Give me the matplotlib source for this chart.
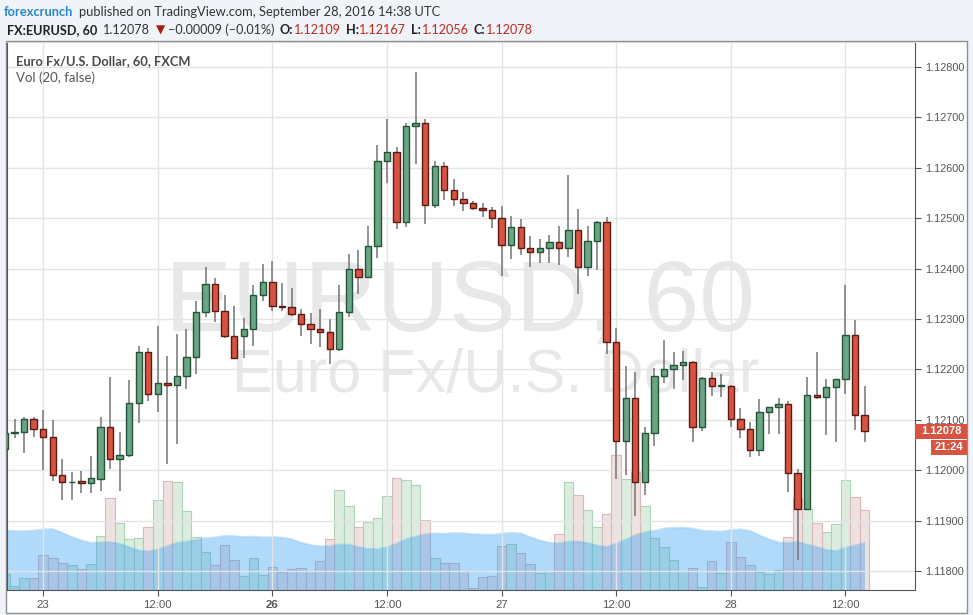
import matplotlib
matplotlib.use('Agg')
import matplotlib.pyplot as plt
from matplotlib import font_manager as fm
from matplotlib.patches import Rectangle
import numpy as np
import pandas as pd

W, H = 973, 615

# ---------------- data ----------------
# hourly bar index, 0 = Sep 23 00:00 UTC (weekend hours skipped)
bar_idx = list(range(-4, 87))
opens = [1.12042, 1.12073, 1.12075, 1.12101, 1.12081, 1.12065, 1.11990, 1.11976, 1.11978, 1.11974,
         1.11983, 1.12085, 1.12022, 1.12030, 1.12133, 1.12234, 1.12151, 1.12174, 1.12170, 1.12186,
         1.12224, 1.12314, 1.12369, 1.12315, 1.12267, 1.12266, 1.12280, 1.12347, 1.12373, 1.12325,
         1.12323, 1.12309, 1.12291, 1.12280, 1.12275, 1.12241, 1.12313, 1.12399, 1.12383, 1.12444,
         1.12613, 1.12631, 1.12492, 1.12682, 1.12688, 1.12526, 1.12603, 1.12555, 1.12538, 1.12530,
         1.12520, 1.12516, 1.12500, 1.12446, 1.12482, 1.12440, 1.12432, 1.12440, 1.12452, 1.12440,
         1.12476, 1.12404, 1.12454, 1.12492, 1.12255, 1.12057, 1.12143, 1.11977, 1.12073, 1.12186,
         1.12200, 1.12208, 1.12214, 1.12085, 1.12182, 1.12168, 1.12168, 1.12101, 1.12081, 1.12040,
         1.12115, 1.12125, 1.12131, 1.11994, 1.11923, 1.12149, 1.12145, 1.12165, 1.12180, 1.12268,
         1.12109]
highs = [1.12078, 1.12101, 1.12105, 1.12105, 1.12120, 1.12100, 1.12022, 1.11997, 1.11999, 1.12028,
         1.12106, 1.12184, 1.12076, 1.12179, 1.12247, 1.12242, 1.12286, 1.12227, 1.12270, 1.12280,
         1.12336, 1.12404, 1.12381, 1.12348, 1.12326, 1.12301, 1.12367, 1.12409, 1.12415, 1.12371,
         1.12361, 1.12320, 1.12312, 1.12320, 1.12300, 1.12367, 1.12429, 1.12437, 1.12485, 1.12645,
         1.12697, 1.12641, 1.12688, 1.12791, 1.12697, 1.12613, 1.12611, 1.12578, 1.12552, 1.12534,
         1.12530, 1.12522, 1.12524, 1.12504, 1.12498, 1.12465, 1.12459, 1.12467, 1.12485, 1.12586,
         1.12518, 1.12485, 1.12495, 1.12502, 1.12282, 1.12207, 1.12194, 1.12086, 1.12202, 1.12258,
         1.12235, 1.12237, 1.12216, 1.12184, 1.12194, 1.12190, 1.12170, 1.12124, 1.12095, 1.12141,
         1.12126, 1.12143, 1.12137, 1.12002, 1.12185, 1.12235, 1.12181, 1.12181, 1.12367, 1.12298,
         1.12167]
lows = [1.12036, 1.12063, 1.12035, 1.12065, 1.12000, 1.11979, 1.11941, 1.11940, 1.11955, 1.11955,
        1.11959, 1.12002, 1.11959, 1.12027, 1.12094, 1.12138, 1.12116, 1.12013, 1.12051, 1.12162,
        1.12190, 1.12303, 1.12295, 1.12263, 1.12220, 1.12223, 1.12247, 1.12336, 1.12316, 1.12316,
        1.12305, 1.12267, 1.12250, 1.12245, 1.12210, 1.12237, 1.12303, 1.12350, 1.12381, 1.12422,
        1.12569, 1.12479, 1.12483, 1.12608, 1.12489, 1.12521, 1.12537, 1.12525, 1.12515, 1.12517,
        1.12503, 1.12481, 1.12385, 1.12420, 1.12426, 1.12404, 1.12412, 1.12412, 1.12408, 1.12424,
        1.12350, 1.12385, 1.12397, 1.12231, 1.11983, 1.11990, 1.11910, 1.11950, 1.12049, 1.12174,
        1.12162, 1.12178, 1.12055, 1.12078, 1.12148, 1.12146, 1.12086, 1.12063, 1.12026, 1.12028,
        1.12072, 1.12072, 1.11957, 1.11821, 1.11921, 1.12141, 1.12070, 1.12055, 1.12152, 1.12080,
        1.12056]
closes = [1.12073, 1.12075, 1.12101, 1.12081, 1.12065, 1.11990, 1.11976, 1.11977, 1.11974, 1.11984,
          1.12085, 1.12022, 1.12030, 1.12133, 1.12234, 1.12151, 1.12174, 1.12170, 1.12186, 1.12224,
          1.12314, 1.12369, 1.12315, 1.12267, 1.12222, 1.12280, 1.12347, 1.12373, 1.12325, 1.12323,
          1.12309, 1.12291, 1.12280, 1.12275, 1.12241, 1.12313, 1.12399, 1.12383, 1.12444, 1.12613,
          1.12631, 1.12492, 1.12682, 1.12688, 1.12526, 1.12603, 1.12555, 1.12538, 1.12530, 1.12520,
          1.12516, 1.12500, 1.12446, 1.12482, 1.12440, 1.12432, 1.12440, 1.12452, 1.12440, 1.12476,
          1.12404, 1.12454, 1.12492, 1.12255, 1.12057, 1.12143, 1.11977, 1.12073, 1.12186, 1.12200,
          1.12208, 1.12214, 1.12085, 1.12182, 1.12168, 1.12168, 1.12101, 1.12081, 1.12040, 1.12115,
          1.12125, 1.12131, 1.11994, 1.11923, 1.12149, 1.12145, 1.12165, 1.12180, 1.12268, 1.12109,
          1.12078]
volume = [47, 11, 35, 35, 104, 95, 80, 74, 62, 77,
          161, 276, 200, 152, 155, 188, 269, 326, 323, 236,
          158, 113, 74, 134, 89, 41, 95, 44, 68, 53,
          62, 65, 56, 86, 152, 299, 251, 188, 203, 215,
          281, 335, 329, 314, 209, 95, 81, 81, 56, 5,
          38, 41, 131, 137, 110, 77, 50, 56, 167, 323,
          284, 239, 188, 227, 404, 332, 354, 251, 155, 128,
          89, 56, 65, 8, 86, 50, 143, 98, 74, 53,
          47, 59, 158, 275, 242, 200, 173, 197, 329, 278,
          239]
# volume MA(20) for the first bars (earlier volumes are off-screen)
vol_ma_head = [180, 177, 177, 179, 182, 183, 172, 159, 149, 142,
               143, 144, 139, 129, 119, 116, 122, 132, 142]
time_tick_idx = [0, 12, 24, 36, 48, 60, 72, 84]
time_tick_labels = ['23', '12:00', '26', '12:00', '27', '12:00', '28', '12:00']
price_ticks = [1.118, 1.119, 1.120, 1.121, 1.122, 1.123, 1.124, 1.125, 1.126, 1.127, 1.128]
last_price = 1.12078
countdown = '21:24'

# ---------------- fonts ----------------
names = {f.name for f in fm.fontManager.ttflist}
def pick(*cands):
    for c in cands:
        if c in names:
            return c
    return 'DejaVu Sans'
UI = pick('Lato', 'Open Sans', 'Noto Sans')
ARIAL = pick('Liberation Sans', 'DejaVu Sans')
NARROW = pick('Liberation Sans Narrow', 'Liberation Sans')

# ---------------- figure ----------------
fig = plt.figure(figsize=(W / 100, H / 100), dpi=100)
fig.patch.set_facecolor('#f0f3f7')
renderer = fig.canvas.get_renderer()

def fx(x):
    return x / W
def fy(y):
    return 1 - y / H

frame = Rectangle((fx(6), fy(613)), (967 - 6) / W, (613 - 41) / H, transform=fig.transFigure,
                  facecolor='white', edgecolor='#8e8e8e', lw=1, zorder=-5)
fig.add_artist(frame)

L, R, T, B = 6.5, 915, 42, 590
ax_v = fig.add_axes([fx(L), fy(B), (R - L) / W, (B - T) / H])
ax = fig.add_axes([fx(L), fy(B), (R - L) / W, (B - T) / H], sharex=ax_v)
ax.set_zorder(ax_v.get_zorder() + 1)
ax.patch.set_visible(False)
ax_v.patch.set_facecolor('white')

x = np.array(bar_idx, dtype=float)
o = np.array(opens); h = np.array(highs); l = np.array(lows); c = np.array(closes)
up = c >= o
spacing = 9.55
x0px = 43.2
ax.set_xlim((L - x0px) / spacing, (R - x0px) / spacing)
ax.set_ylim(1.128 - (B - 67) / 50400, 1.128 + (67 - T) / 50400)

# volume
v = np.array(volume, dtype=float)
ax_v.set_ylim(0, (B - T) * 3)
ax_v.bar(x[up], v[up], width=1.0, color='#dcede0', edgecolor='#acd3b6', lw=0.8, zorder=2)
ax_v.bar(x[~up], v[~up], width=1.0, color='#f0e1e1', edgecolor='#d8b9b9', lw=0.8, zorder=2)
vs = pd.Series(v, index=bar_idx)
ma = vs.rolling(20).mean().to_numpy()
ma[:len(vol_ma_head)] = vol_ma_head
ax_v.fill_between(x, 0, ma, color=(33 / 255, 150 / 255, 243 / 255, 0.35), lw=0, zorder=3)
ax_v.plot(x, ma, color=(33 / 255, 150 / 255, 243 / 255, 0.25), lw=1.2, zorder=3)
ax_v.set_yticks([])
for s in ax_v.spines.values():
    s.set_visible(False)
ax_v.tick_params(axis='x', bottom=False, labelbottom=False)

# grid
ax.set_axisbelow(True)
ax.set_yticks(price_ticks)
ax.set_xticks(time_tick_idx)
ax.grid(True, color='#e4e4e4', lw=1, zorder=0)

# watermark
wm1 = ax.text(fx(165), fy(331), 'EURUSD, 60', transform=fig.transFigure, fontsize=72,
              family=ARIAL, color='#e8e8e8', ha='left', va='baseline', zorder=0.5)
wm1.set_fontsize(72 * 590 / wm1.get_window_extent(renderer).width)
wm2 = ax.text(fx(232), fy(392), 'Euro Fx/U.S. Dollar', transform=fig.transFigure, fontsize=40,
              family=ARIAL, color='#e8e8e8', ha='left', va='baseline', zorder=0.5)
wm2.set_fontsize(40 * 526 / wm2.get_window_extent(renderer).width)

# candles
ax.vlines(x, l, h, color='#747476', lw=1.1, zorder=2)
bot = np.minimum(o, c)
bh = np.maximum(np.abs(c - o), 0.000012)
ax.bar(x[up], bh[up], bottom=bot[up], width=0.66, color='#6ba583', edgecolor='#225437', lw=1, zorder=3)
ax.bar(x[~up], bh[~up], bottom=bot[~up], width=0.66, color='#d75442', edgecolor='#5b1a13', lw=1, zorder=3)

# axes styling
ax.yaxis.tick_right()
ax.set_yticklabels(['%.5f' % p for p in price_ticks])
ax.tick_params(axis='y', length=4, pad=3, labelsize=7.8, colors='#555555', labelcolor='#555555')
ax.set_xticklabels(time_tick_labels)
ax.tick_params(axis='x', length=4, pad=3, labelsize=8.2, colors='#555555', labelcolor='#555555')
for lab in ax.get_yticklabels():
    lab.set_family(NARROW)
for lab, txt in zip(ax.get_xticklabels(), time_tick_labels):
    lab.set_family(NARROW)
    if txt == '26':
        lab.set_fontweight('bold')
for side in ['left', 'right', 'bottom']:
    ax.spines[side].set_color('#555555')
ax.spines['top'].set_color('#d6d6d6')

# legend texts inside chart
ax.text(fx(15.5), fy(65), 'Euro Fx/U.S. Dollar, 60, FXCM', transform=fig.transFigure, fontsize=9.3,
        family=[UI, 'DejaVu Sans'], fontweight='bold', color='#4a4a4a', ha='left', va='baseline', zorder=6)
ax.text(fx(15.5), fy(82), 'Vol (20, false)', transform=fig.transFigure, fontsize=9.5,
        family=[UI, 'DejaVu Sans'], color='#555555', ha='left', va='baseline', zorder=6)

# last price label and countdown
fig.add_artist(Rectangle((fx(915), fy(438.5)), 52 / W, 14.5 / H, transform=fig.transFigure,
                         facecolor='#d75442', edgecolor='none', zorder=10))
fig.text(fx(941), fy(431), '%.5f' % last_price, color='white', fontsize=8, fontweight='bold',
         family=ARIAL, ha='center', va='center', zorder=11)
fig.add_artist(Rectangle((fx(931), fy(455)), 36 / W, 15 / H, transform=fig.transFigure,
                         facecolor='#d75442', edgecolor='none', zorder=10))
fig.text(fx(949), fy(447.5), countdown, color='white', fontsize=8, fontweight='bold',
         family=ARIAL, ha='center', va='center', zorder=11)

# header
def put(xp, yp, s, size, **kw):
    return fig.text(fx(xp), fy(yp), s, fontsize=size, ha='left', va='baseline', zorder=12, **kw)

def width_of(t):
    return t.get_window_extent(renderer).width

RED = '#c0281e'
fam = [UI, 'DejaVu Sans']
t_pub = put(79, 16, 'published on TradingView.com, September 28, 2016 14:38 UTC', 10,
            color='#333333', family=fam)
s1 = 10 * 362 / width_of(t_pub)
t_pub.set_fontsize(s1)
put(4, 16, 'forexcrunch', s1, color='#2a87c8', fontweight='bold', family=fam)

# line 2: (text, colour, weight, family, size factor, gap after in px)
line2 = [
    ('FX:EURUSD, 60', '#222222', 'bold', fam, 1.0, 5.5),
    ('1.12078', '#333333', 'normal', fam, 1.0, 5.5),
    ('\u25bc', '#a51d14', 'normal', ['DejaVu Sans'], 0.95, 3.0),
    ('\u22120.00009 (\u22120.01%)', '#333333', 'normal', fam, 1.0, 5.0),
    ('O:', '#222222', 'bold', fam, 1.0, 0.8),
    ('1.12109', RED, 'normal', fam, 1.0, 5.0),
    ('H:', '#222222', 'bold', fam, 1.0, 0.8),
    ('1.12167', RED, 'normal', fam, 1.0, 5.0),
    ('L:', '#222222', 'bold', fam, 1.0, 0.8),
    ('1.12056', RED, 'normal', fam, 1.0, 5.0),
    ('C:', '#222222', 'bold', fam, 1.0, 0.8),
    ('1.12078', RED, 'normal', fam, 1.0, 0.0),
]
x_start, x_end = 7.3, 535.0
texts = [put(x_start, 34, s, 10 * k, color=col, fontweight=wt, family=f_)
         for s, col, wt, f_, k, g in line2]
total_w = sum(width_of(t) for t in texts)
total_gap = sum(item[5] for item in line2)
scale = (x_end - x_start - total_gap) / total_w
xp = x_start
for t, item in zip(texts, line2):
    t.set_fontsize(10 * item[4] * scale)
    t.set_x(fx(xp))
    xp += width_of(t) + item[5]

fig.savefig('out.png', dpi=100, facecolor=fig.get_facecolor())
